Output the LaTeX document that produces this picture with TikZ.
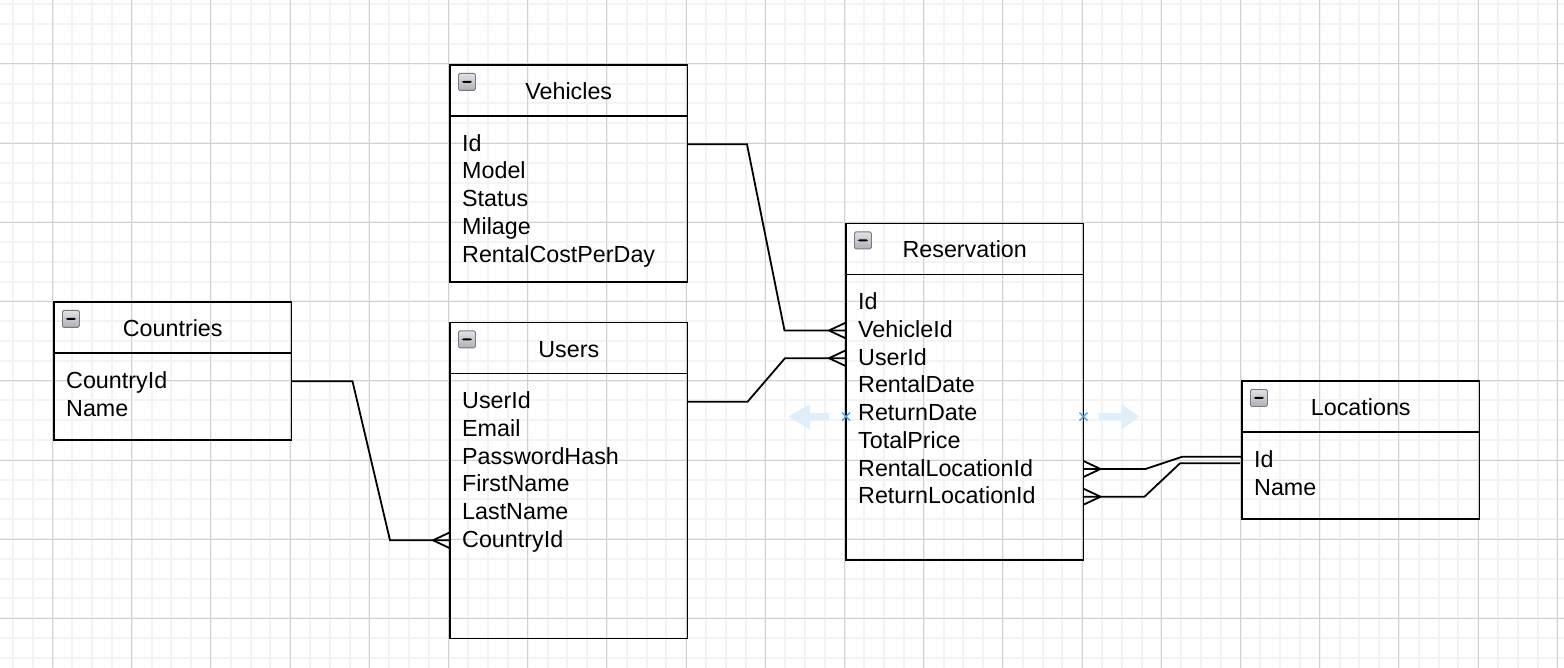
\documentclass[tikz,border=0pt]{standalone}
\usepackage{fontspec}
\setmainfont{Liberation Sans}
\usetikzlibrary{calc}
\definecolor{gridminor}{RGB}{243,243,243}
\definecolor{gridmajor}{RGB}{208,208,208}
\definecolor{hintblue}{RGB}{222,238,250}
\definecolor{markblue}{RGB}{70,165,235}
\definecolor{iconlight}{RGB}{225,225,230}
\definecolor{icondark}{RGB}{175,175,182}
\definecolor{iconedge}{RGB}{120,120,130}
\newcommand\ERtable[6]{%
  \node[tbl,minimum height=#4pt] (#1) at (#2,#3) {};
  \draw[conn] ([yshift=-51pt]#1.north west) -- ([yshift=-51pt]#1.north east);
  \node[icon] (#1-icon) at ([xshift=8pt,yshift=-8pt]#1.north west) {};
  \node[tabletitle] (#1-title) at ([yshift=-34.5pt]#1.north) {#5};
  \foreach \t [count=\i] in {#6}
    \node[fieldrow] (#1-\i) at ([xshift=12pt,yshift={-(86.3+27.7*(\i-1))*1pt}]#1.north west) {\t};
}
\begin{document}
\begin{tikzpicture}[x=1pt,y=-1pt,
  font=\fontsize{23.3}{27.7}\selectfont,
  tbl/.style={draw=black,line width=1.9pt,rectangle,inner sep=0pt,outer sep=0pt,anchor=north west,minimum width=237.5pt},
  tabletitle/.style={anchor=base,inner sep=0pt},
  fieldrow/.style={anchor=base west,inner sep=0pt,text height=17pt,text depth=3pt},
  conn/.style={draw=black,line width=1.8pt},
  icon/.style={anchor=north west,rectangle,rounded corners=1.5pt,minimum size=17pt,inner sep=0pt,draw=iconedge,line width=0.8pt,top color=iconlight,bottom color=icondark,
    path picture={\fill[black] ([xshift=-5pt,yshift=-1pt]path picture bounding box.center) rectangle ([xshift=5pt,yshift=1pt]path picture bounding box.center);}},
  crowR/.pic={\draw[conn] (-17,0) -- (0,-8) (-17,0) -- (0,8);},
  crowL/.pic={\draw[conn] (17,0) -- (0,-8) (17,0) -- (0,8);},
  gminor/.style={draw=gridminor,line width=2pt},
  gmajor/.style={draw=gridmajor,line width=1pt},
]
\useasboundingbox (0,0) rectangle (1564,668);
\fill[white] (0,0) rectangle (1564,668);
% grid
\foreach \k in {0,...,78} \draw[gminor] (12.9+19.8*\k,0) -- (12.9+19.8*\k,668);
\foreach \k in {0,...,33} \draw[gminor] (0,4.4+19.8*\k) -- (1564,4.4+19.8*\k);
\foreach \k in {0,...,19} \draw[gmajor] (52.5+79.2*\k,0) -- (52.5+79.2*\k,668);
\foreach \k in {0,...,7} \draw[gmajor] (0,64+79.2*\k) -- (1564,64+79.2*\k);

% tables
\ERtable{veh}{450}{65}{217}{Vehicles}{Id,Model,Status,Milage,RentalCostPerDay}
\ERtable{cty}{54}{302}{138}{Countries}{CountryId,Name}
\ERtable{usr}{450}{322.5}{316}{Users}{UserId,Email,PasswordHash,FirstName,LastName,CountryId}
\ERtable{res}{846}{223.5}{336.5}{Reservation}{Id,VehicleId,UserId,RentalDate,ReturnDate,TotalPrice,RentalLocationId,ReturnLocationId}
\ERtable{loc}{1242}{381}{138}{Locations}{Id,Name}

% connectors
\draw[conn] (veh.east |- veh-1.west) -- ++(59.5,0) -- ($(res.west |- res-2.west)+(-61.5,0)$) -- (res.west |- res-2.west);
\path (res.west |- res-2.west) pic {crowR};
\draw[conn] (usr.east |- usr-1.west) -- ++(60,0) -- ($(res.west |- res-3.west)+(-61,0)$) -- (res.west |- res-3.west);
\path (res.west |- res-3.west) pic {crowR};
\draw[conn] (cty.east |- cty-1.west) -- ++(61,0) -- ($(usr.west |- usr-6.west)+(-60,0)$) -- (usr.west |- usr-6.west);
\path (usr.west |- usr-6.west) pic {crowR};
\draw[conn] (res.east |- res-7.west) -- ++(62,0) -- ($(loc.west |- loc-1.west)+(-60,-3.5)$) -- ($(loc.west |- loc-1.west)+(0,-3.5)$);
\path (res.east |- res-7.west) pic {crowL};
\draw[conn] (res.east |- res-8.west) -- ++(61,0) -- ($(loc.west |- loc-1.west)+(-62,3)$) -- ($(loc.west |- loc-1.west)+(-2,3)$);
\path (res.east |- res-8.west) pic {crowL};

% hover hints
\coordinate (hintL) at ($(res.north west)+(0,193.2)$);
\coordinate (hintR) at ($(res.north east)+(0,193.2)$);
\begin{scope}[shift={(hintL)}]
  \fill[hintblue] (-17,-3.7) -- (-36,-3.7) -- (-36,-12.5) -- (-58,0) -- (-36,12.5) -- (-36,3.7) -- (-17,3.7) -- cycle;
  \draw[markblue,line width=1.4pt] (-4,-4) -- (4,4) (-4,4) -- (4,-4);
\end{scope}
\begin{scope}[shift={(hintR)}]
  \fill[hintblue] (15,-3.7) -- (38,-3.7) -- (38,-12.5) -- (56,0) -- (38,12.5) -- (38,3.7) -- (15,3.7) -- cycle;
  \draw[markblue,line width=1.4pt] (-4,-4) -- (4,4) (-4,4) -- (4,-4);
\end{scope}
\end{tikzpicture}
\end{document}
